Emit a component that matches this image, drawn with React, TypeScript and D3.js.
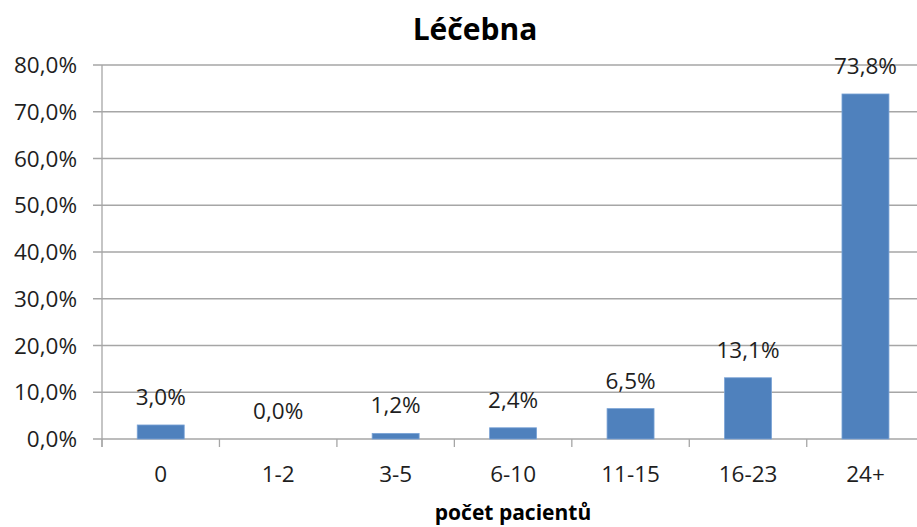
import React, { useEffect } from "react";
import * as d3 from "d3";

const categories = ["0", "1-2", "3-5", "6-10", "11-15", "16-23", "24+"];
const values = [3.0, 0.0, 1.2, 2.4, 6.5, 13.1, 73.8];
const yTicks = [0, 10, 20, 30, 40, 50, 60, 70, 80];
const title = "Léčebna";
const xTitle = "počet pacientů";

const W = 917;
const H = 527;
const left = 102;
const right = 924.2;
const top = 65;
const bottom = 439;
const font = "'Open Sans', 'Liberation Sans', sans-serif";
const fmt = (v: number) => v.toFixed(1).replace(".", ",") + "%";

export default function App() {
  useEffect(() => {
    document.body.style.margin = "0";
  }, []);
  const x = d3.scaleBand<string>().domain(categories).range([left, right]).padding(0);
  const y = d3.scaleLinear().domain([0, 80]).range([bottom, top]);
  const bw = x.bandwidth() * 0.4;
  const grid = "#a6a6a6";
  const textColor = "#1e1e1e";
  return (
    <svg width={W} height={H} style={{ display: "block", position: "absolute", left: 0, top: 0 }}>
      <rect x={0} y={0} width={W} height={H} fill="#fff" />
      {yTicks.map((t) => (
        <g key={t}>
          <line x1={left - 9} x2={right} y1={y(t)} y2={y(t)} stroke={grid} strokeWidth={1.3} />
          <text x={77} y={y(t)} dy="0.36em" textAnchor="end" fontFamily={font} fontSize={22.5} fill={textColor}>
            {fmt(t)}
          </text>
        </g>
      ))}
      <line x1={left} x2={left} y1={top} y2={bottom + 8} stroke={grid} strokeWidth={1.3} />
      {categories.map((c, i) => (
        <line key={"t" + c} x1={x(c)!} x2={x(c)!} y1={bottom} y2={bottom + 8} stroke={grid} strokeWidth={1.3} />
      ))}
      <line x1={right} x2={right} y1={bottom} y2={bottom + 8} stroke={grid} strokeWidth={1.3} />
      {categories.map((c, i) => {
        const cx = x(c)! + x.bandwidth() / 2;
        const v = values[i];
        return (
          <g key={c}>
            {v > 0 && (
              <rect
                x={cx - bw / 2}
                y={y(v)}
                width={bw}
                height={bottom - y(v)}
                fill="#4f81bd"
                stroke="#7aa3d6"
                strokeWidth={0.8}
              />
            )}
            <text x={cx} y={y(v) - 20} textAnchor="middle" fontFamily={font} fontSize={22.5} fill={textColor}>
              {fmt(v)}
            </text>
            <text x={cx} y={482} textAnchor="middle" fontFamily={font} fontSize={22.5} fill={textColor}>
              {c}
            </text>
          </g>
        );
      })}
      <text x={475} y={40} textAnchor="middle" fontFamily={font} fontWeight="bold" fontSize={30} fill="#000">
        {title}
      </text>
      <text x={513} y={520} textAnchor="middle" fontFamily={font} fontWeight="bold" fontSize={21} fill="#000">
        {xTitle}
      </text>
    </svg>
  );
}
